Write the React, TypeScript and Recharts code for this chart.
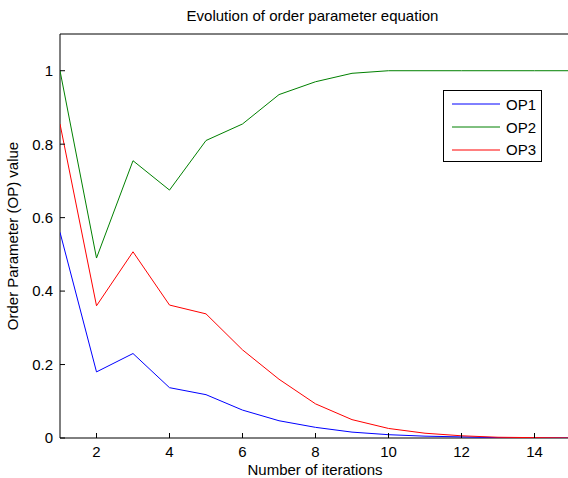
import React from 'react';
import { LineChart, Line, XAxis, YAxis, Legend, ReferenceArea } from 'recharts';

const iterations = [1, 2, 3, 4, 5, 6, 7, 8, 9, 10, 11, 12, 13, 14, 15];
const op1 = [0.56, 0.18, 0.23, 0.137, 0.118, 0.076, 0.047, 0.029, 0.016, 0.009, 0.005, 0.003, 0.001, 0, 0];
const op2 = [1.0, 0.49, 0.755, 0.675, 0.81, 0.855, 0.935, 0.97, 0.993, 1.0, 1.0, 1.0, 1.0, 1.0, 1.0];
const op3 = [0.855, 0.36, 0.507, 0.362, 0.338, 0.24, 0.16, 0.093, 0.05, 0.026, 0.013, 0.006, 0.002, 0.001, 0];
const xTicks = [2, 4, 6, 8, 10, 12, 14];
const yTicks = [0, 0.2, 0.4, 0.6, 0.8, 1];

const data = iterations.map((it, i) => ({ it, OP1: op1[i], OP2: op2[i], OP3: op3[i] }));

const FONT = '"Liberation Sans", Arial, sans-serif';
const FS = 15;

const BottomTick = (props: any) => {
  const { x, y, payload } = props;
  return (
    <g>
      <line x1={x} y1={y} x2={x} y2={y - 5} stroke="#000" />
      <text x={x} y={y + 18.5} textAnchor="middle" fontSize={FS} fontFamily={FONT} fill="#000">
        {payload.value}
      </text>
    </g>
  );
};

const TopTick = (props: any) => {
  const { x, y } = props;
  return <line x1={x} y1={y} x2={x} y2={y + 5} stroke="#000" />;
};

const LeftTick = (props: any) => {
  const { x, y, payload } = props;
  const v = Number(Number(payload.value).toFixed(1));
  return (
    <g>
      <line x1={x} y1={y} x2={x + 5} y2={y} stroke="#000" />
      <text x={x - 7} y={y + 5.4} textAnchor="end" fontSize={FS} fontFamily={FONT} fill="#000">
        {String(v)}
      </text>
    </g>
  );
};

const renderLegend = (props: any) => {
  const { payload } = props;
  return (
    <div
      style={{
        border: '1px solid #000',
        background: '#fff',
        width: 99,
        height: 72,
        boxSizing: 'border-box',
        padding: '2px 0 0 8px',
        fontFamily: FONT,
        fontSize: FS,
        lineHeight: '17px',
      }}
    >
      {payload.map((p: any) => (
        <div key={p.value} style={{ display: 'flex', alignItems: 'center', height: 22.7 }}>
          <svg width={48} height={4} style={{ marginRight: 6, flex: 'none' }}>
            <line x1={0} y1={2} x2={48} y2={2} stroke={p.color} strokeWidth={1} />
          </svg>
          <span style={{ color: '#000' }}>{p.value}</span>
        </div>
      ))}
    </div>
  );
};

export default function App() {
  return (
    <div style={{ position: 'absolute', left: 0, top: 0, width: 568, height: 478, overflow: 'hidden', background: '#fff' }}>
      <LineChart width={580} height={478} data={data} margin={{ top: 34, right: 9, left: 0, bottom: 0 }}>
        <XAxis
          dataKey="it"
          type="number"
          domain={[1, 15]}
          ticks={xTicks}
          allowDataOverflow
          height={40}
          tickSize={0}
          tickMargin={0}
          axisLine={false}
          tickLine={false}
          tick={<BottomTick />}
        />
        <XAxis
          xAxisId="top"
          dataKey="it"
          type="number"
          orientation="top"
          domain={[1, 15]}
          ticks={xTicks}
          height={0}
          tickSize={0}
          tickMargin={0}
          axisLine={false}
          tickLine={false}
          tick={<TopTick />}
        />
        <YAxis
          type="number"
          domain={[0, 1.1]}
          ticks={yTicks}
          allowDataOverflow
          width={60}
          tickSize={0}
          tickMargin={0}
          axisLine={false}
          tickLine={false}
          tick={<LeftTick />}
        />
        <ReferenceArea x1={1} x2={15} y1={0} y2={1.1} fill="none" stroke="#000" strokeWidth={1} ifOverflow="visible" />
        <Line type="linear" dataKey="OP1" stroke="#0000ff" strokeWidth={1} dot={false} isAnimationActive={false} />
        <Line type="linear" dataKey="OP2" stroke="#008000" strokeWidth={1} dot={false} isAnimationActive={false} />
        <Line type="linear" dataKey="OP3" stroke="#ff0000" strokeWidth={1} dot={false} isAnimationActive={false} />
        <Legend
          content={renderLegend}
          layout="horizontal"
          verticalAlign="middle"
          align="center"
          wrapperStyle={{ position: 'absolute', left: 443, top: 90, width: 99, height: 72 }}
        />
      </LineChart>
      <div style={{ position: 'absolute', left: 0, width: 625, top: 6.5, textAlign: 'center', fontFamily: FONT, fontSize: FS, lineHeight: '17px', color: '#000' }}>
        Evolution of order parameter equation
      </div>
      <div style={{ position: 'absolute', left: 0, width: 630, top: 461, textAlign: 'center', fontFamily: FONT, fontSize: FS, lineHeight: '17px', color: '#000' }}>
        Number of iterations
      </div>
      <div
        style={{
          position: 'absolute',
          left: 12,
          top: 236,
          width: 0,
          height: 0,
          fontFamily: FONT,
          fontSize: FS,
          lineHeight: '17px',
          color: '#000',
        }}
      >
        <div style={{ position: 'absolute', transform: 'translate(-50%, -50%) rotate(-90deg)', whiteSpace: 'nowrap' }}>
          Order Parameter (OP) value
        </div>
      </div>
    </div>
  );
}
